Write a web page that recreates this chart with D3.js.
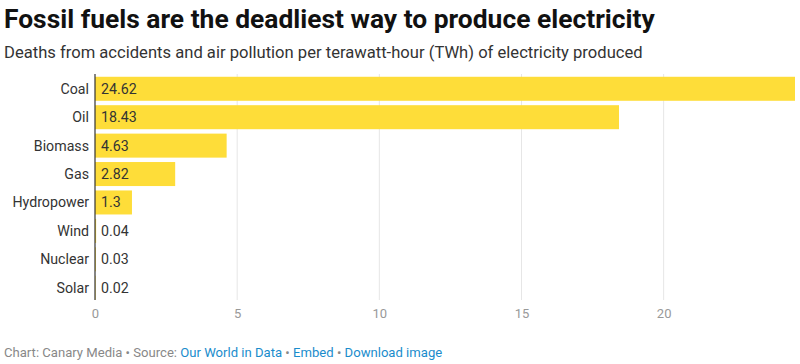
<!DOCTYPE html>
<html><head><meta charset="utf-8">
<script src="https://cdn.jsdelivr.net/npm/d3@7"></script>
<style>
body{margin:0;background:#fff;font-family:Roboto,sans-serif;}
</style></head><body>
<svg id="c" width="800" height="364"></svg>
<script>
const categories = ["Coal","Oil","Biomass","Gas","Hydropower","Wind","Nuclear","Solar"];
const values = [24.62,18.43,4.63,2.82,1.3,0.04,0.03,0.02];
const valueLabels = ["24.62","18.43","4.63","2.82","1.3","0.04","0.03","0.02"];
const ticks = [0,5,10,15,20];

const svg = d3.select("#c");
svg.append("text").attr("x",4).attr("y",28).attr("font-size",26.4).attr("font-weight",700).attr("fill","#111")
  .text("Fossil fuels are the deadliest way to produce electricity");
svg.append("text").attr("x",4).attr("y",58).attr("font-size",16.6).attr("fill","#333")
  .text("Deaths from accidents and air pollution per terawatt-hour (TWh) of electricity produced");

const x = d3.scaleLinear().domain([0,24.62]).range([95,795]);
const y = d3.scaleBand().domain(categories).range([74.5,302]).paddingInner(0.155).paddingOuter(0.08);

// grid
svg.append("g").selectAll("line").data(ticks.slice(1)).join("line")
  .attr("x1",d=>x(d)).attr("x2",d=>x(d)).attr("y1",74).attr("y2",300)
  .attr("stroke","#e6e6e6").attr("stroke-width",1);

svg.append("g").selectAll("rect").data(values).join("rect")
  .attr("x",x(0)).attr("y",(d,i)=>y(categories[i])).attr("width",d=>x(d)-x(0)).attr("height",y.bandwidth())
  .attr("fill","#fedd39");

svg.append("line").attr("x1",x(0)).attr("x2",x(0)).attr("y1",74).attr("y2",300).attr("stroke","#333").attr("stroke-width",1.2);

svg.append("g").selectAll("text").data(categories).join("text")
  .attr("x",89).attr("y",d=>y(d)+y.bandwidth()/2).attr("dy","0.35em").attr("text-anchor","end")
  .attr("font-size",14.2).attr("fill","#333").text(d=>d);

svg.append("g").selectAll("text").data(valueLabels).join("text")
  .attr("x",x(0)+6).attr("y",(d,i)=>y(categories[i])+y.bandwidth()/2).attr("dy","0.35em")
  .attr("font-size",14.2).attr("fill","#333").text(d=>d);

const ax = d3.axisBottom(x).tickValues(ticks).tickSize(0).tickFormat(d3.format("d"));
const g = svg.append("g").attr("transform","translate(0,306)").call(ax);
g.select(".domain").remove();
g.selectAll("text").attr("font-size",13).attr("fill","#999").attr("font-family","Roboto,sans-serif");

const f = svg.append("text").attr("x",4).attr("y",357).attr("font-size",13.1).attr("fill","#888");
f.append("tspan").text("Chart: Canary Media • Source: ");
f.append("tspan").attr("fill","#1a8ccc").text("Our World in Data");
f.append("tspan").text(" • ");
f.append("tspan").attr("fill","#1a8ccc").text("Embed");
f.append("tspan").text(" • ");
f.append("tspan").attr("fill","#1a8ccc").text("Download image");
</script></body></html>
